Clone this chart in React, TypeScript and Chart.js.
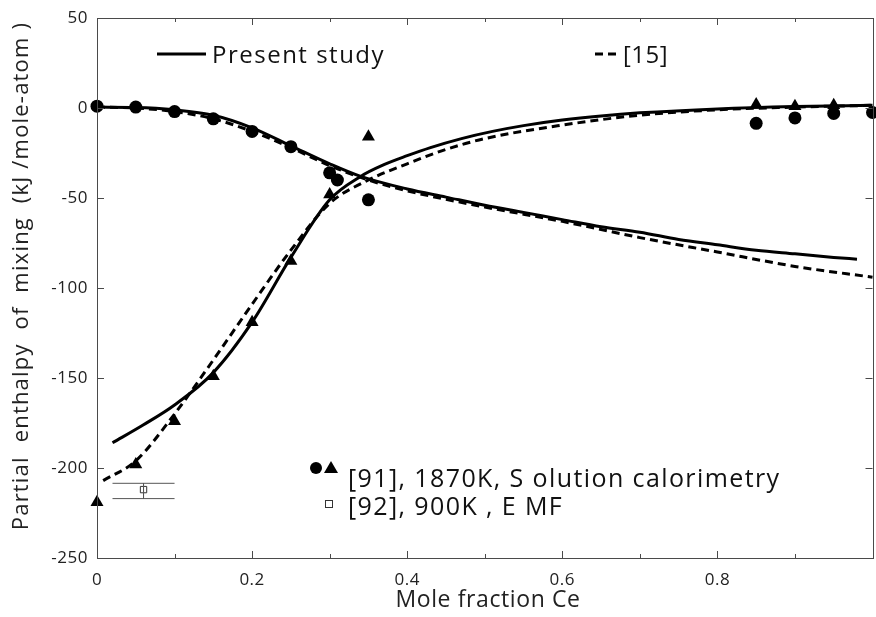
import React, { useEffect, useRef } from "react";
import { Chart, registerables } from "chart.js";

Chart.register(...registerables);

// ---- data ----
const xTicks = [0, 0.2, 0.4, 0.6, 0.8];
const xMinorTicks = [0.1, 0.3, 0.5, 0.7, 0.9];
const yTicks = [50, 0, -50, -100, -150, -200, -250];

// Present study, curve decreasing from 0
const presentAx = [0, 0.05, 0.1, 0.15, 0.2, 0.25, 0.3, 0.34, 0.4, 0.45, 0.5, 0.55, 0.6, 0.65, 0.7, 0.75, 0.8, 0.85, 0.9, 0.95, 0.98];
const presentAy = [0.5, 0.3, -1, -4, -11, -21, -31, -38, -45, -49.5, -54, -58, -62, -66, -69, -73, -76, -79, -81, -83, -84];
// Present study, curve rising to 0
const presentBx = [0.02, 0.06, 0.1, 0.15, 0.2, 0.25, 0.3, 0.34, 0.37, 0.4, 0.43, 0.47, 0.51, 0.55, 0.6, 0.65, 0.7, 0.8, 0.9, 1.0];
const presentBy = [-186, -176, -165, -147, -119, -83, -51, -38, -31.5, -26.5, -22, -17, -13, -9.8, -6.7, -4.4, -2.7, -0.5, 0.8, 1.5];
// [15], curve decreasing from 0
const ref15Ax = [0, 0.05, 0.1, 0.15, 0.2, 0.25, 0.3, 0.35, 0.4, 0.5, 0.6, 0.7, 0.8, 0.9, 1.0];
const ref15Ay = [0.5, 0, -2, -6, -13, -22, -32, -40, -46, -55, -63, -72, -80, -88, -94];
// [15], curve rising to 0
const ref15Bx = [0.008, 0.05, 0.1, 0.15, 0.2, 0.25, 0.3, 0.35, 0.4, 0.45, 0.5, 0.6, 0.7, 0.8, 0.9, 1.0];
const ref15By = [-207, -196, -170, -140, -109, -79, -53, -40, -31, -23, -17, -9.5, -4, -1, 0.5, 1.5];

// [91] 1870K solution calorimetry
const ref91CircleX = [0, 0.05, 0.1, 0.15, 0.2, 0.25, 0.3, 0.31, 0.35, 0.85, 0.9, 0.95, 1.0];
const ref91CircleY = [1, 0.5, -2, -6, -13, -21.5, -36, -40, -51, -8.5, -5.5, -3, -2.5];
const ref91TriX = [0, 0.05, 0.1, 0.15, 0.2, 0.25, 0.3, 0.35, 0.85, 0.9, 0.95];
const ref91TriY = [-219, -198, -174, -149, -119, -85, -48, -16, 2, 1, 1.5];

// [92] 900K EMF
const ref92X = [0.06];
const ref92Y = [-212];
const ref92ErrX = [0.02, 0.1];
const ref92ErrHigh = -208.5;
const ref92ErrLow = -217;

const pts = (xs: number[], ys: number[]) => xs.map((x, i) => ({ x, y: ys[i] }));

const FONT = '"Open Sans", "DejaVu Sans", sans-serif';

const axesPlugin = {
  id: "customAxes",
  afterDraw(chart: any) {
    const { ctx, chartArea: ca } = chart;
    const xs = chart.scales.x;
    const ys = chart.scales.y;
    ctx.save();
    // frame
    ctx.strokeStyle = "#4a4a4a";
    ctx.lineWidth = 1;
    ctx.strokeRect(Math.round(ca.left) + 0.5, Math.round(ca.top) + 0.5, Math.round(ca.right - ca.left), Math.round(ca.bottom - ca.top));
    ctx.beginPath();
    const tick = (v: number, len: number) => {
      const px = Math.round(xs.getPixelForValue(v)) + 0.5;
      ctx.moveTo(px, ca.bottom);
      ctx.lineTo(px, ca.bottom - len);
      ctx.moveTo(px, ca.top);
      ctx.lineTo(px, ca.top + len);
    };
    xTicks.forEach((v) => tick(v, 7));
    xMinorTicks.forEach((v) => tick(v, 4));
    yTicks.forEach((v) => {
      const py = Math.round(ys.getPixelForValue(v)) + 0.5;
      ctx.moveTo(ca.left, py);
      ctx.lineTo(ca.left + 7, py);
      ctx.moveTo(ca.right, py);
      ctx.lineTo(ca.right - 7, py);
    });
    ctx.stroke();

    // tick labels
    ctx.fillStyle = "#222";
    ctx.font = `17px ${FONT}`;
    (ctx as any).letterSpacing = "0.5px";
    ctx.textBaseline = "middle";
    ctx.textAlign = "center";
    xTicks.forEach((v) => {
      ctx.fillText(String(v), xs.getPixelForValue(v), ca.bottom + 22);
    });
    ctx.textAlign = "right";
    yTicks.forEach((v) => {
      ctx.fillText(String(v), ca.left - 9, ys.getPixelForValue(v));
    });

    // axis titles
    ctx.font = `23px ${FONT}`;
    (ctx as any).letterSpacing = "0.6px";
    ctx.textAlign = "center";
    ctx.fillText("Mole fraction Ce", 488, ca.bottom + 42);
    ctx.save();
    ctx.translate(22, 276);
    ctx.rotate(-Math.PI / 2);
    ctx.font = `22px ${FONT}`;
    (ctx as any).letterSpacing = "1.2px";
    ctx.fillText("Partial  enthalpy  of  mixing  (kJ /mole-atom )", 0, 0);
    ctx.restore();

    // legend top
    ctx.strokeStyle = "#000";
    ctx.lineWidth = 3;
    ctx.beginPath();
    ctx.moveTo(157, 54);
    ctx.lineTo(206, 54);
    ctx.stroke();
    ctx.setLineDash([8, 5]);
    ctx.beginPath();
    ctx.moveTo(595, 54);
    ctx.lineTo(618, 54);
    ctx.stroke();
    ctx.setLineDash([]);
    ctx.fillStyle = "#111";
    ctx.font = `24px ${FONT}`;
    (ctx as any).letterSpacing = "1.5px";
    ctx.textAlign = "left";
    ctx.fillText("Present study", 212, 56);
    (ctx as any).letterSpacing = "0.5px";
    ctx.fillText("[15]", 623, 56);

    // legend bottom
    ctx.fillStyle = "#000";
    ctx.beginPath();
    ctx.arc(316, 468, 6, 0, Math.PI * 2);
    ctx.fill();
    ctx.beginPath();
    ctx.moveTo(331, 461);
    ctx.lineTo(338, 473);
    ctx.lineTo(324, 473);
    ctx.closePath();
    ctx.fill();
    ctx.strokeStyle = "#333";
    ctx.lineWidth = 1;
    ctx.strokeRect(325.5, 500.5, 7, 7);
    ctx.fillStyle = "#111";
    ctx.font = `25px ${FONT}`;
    (ctx as any).letterSpacing = "1.4px";
    ctx.fillText("[91], 1870K, S olution calorimetry", 348, 480);
    ctx.fillText("[92], 900K , E MF", 348, 508);
    ctx.restore();
  },
};

export default function App() {
  const ref = useRef<HTMLCanvasElement>(null);
  useEffect(() => {
    if (!ref.current) return;
    const solid = { borderColor: "#000", borderWidth: 3, pointRadius: 0, cubicInterpolationMode: "monotone" as const, fill: false };
    const dashed = { ...solid, borderDash: [8, 5] };
    const chart = new Chart(ref.current, {
      type: "line",
      data: {
        datasets: [
          { label: "[92] error high", data: pts(ref92ErrX, ref92ErrX.map(() => ref92ErrHigh)), borderColor: "#555", borderWidth: 1, pointRadius: 0 },
          { label: "[92] error low", data: pts(ref92ErrX, ref92ErrX.map(() => ref92ErrLow)), borderColor: "#555", borderWidth: 1, pointRadius: 0 },
          { label: "[92] error vertical", data: [{ x: ref92X[0], y: ref92ErrHigh }, { x: ref92X[0], y: ref92ErrLow }], borderColor: "#555", borderWidth: 1, pointRadius: 0 },
          { label: "Present study A", data: pts(presentAx, presentAy), ...solid },
          { label: "Present study B", data: pts(presentBx, presentBy), ...solid },
          { label: "[15] A", data: pts(ref15Ax, ref15Ay), ...dashed },
          { label: "[15] B", data: pts(ref15Bx, ref15By), ...dashed },
          { label: "[91] circles", data: pts(ref91CircleX, ref91CircleY), showLine: false, pointStyle: "circle", pointRadius: 6.5, backgroundColor: "#000", borderColor: "#000", borderWidth: 0 },
          { label: "[91] triangles", data: pts(ref91TriX, ref91TriY), showLine: false, pointStyle: "triangle", pointRadius: 7.5, backgroundColor: "#000", borderColor: "#000", borderWidth: 0 },
          { label: "[92]", data: pts(ref92X, ref92Y), showLine: false, pointStyle: "rect", pointRadius: 4.5, backgroundColor: "#fff", borderColor: "#333", borderWidth: 1 },
        ],
      },
      options: {
        responsive: false,
        animation: false,
        clip: false as any,
        layout: { padding: { left: 97, top: 18, right: 1, bottom: 59 } },
        plugins: { legend: { display: false }, tooltip: { enabled: false } },
        scales: {
          x: { type: "linear", min: 0, max: 1, display: false },
          y: { type: "linear", min: -250, max: 50, display: false },
        },
      },
      plugins: [axesPlugin],
    });
    return () => chart.destroy();
  }, []);
  return (
    <div style={{ position: "fixed", left: 0, top: 0, width: 880, height: 617, background: "#fff" }}>
      <canvas ref={ref} width={880} height={617} />
    </div>
  );
}
